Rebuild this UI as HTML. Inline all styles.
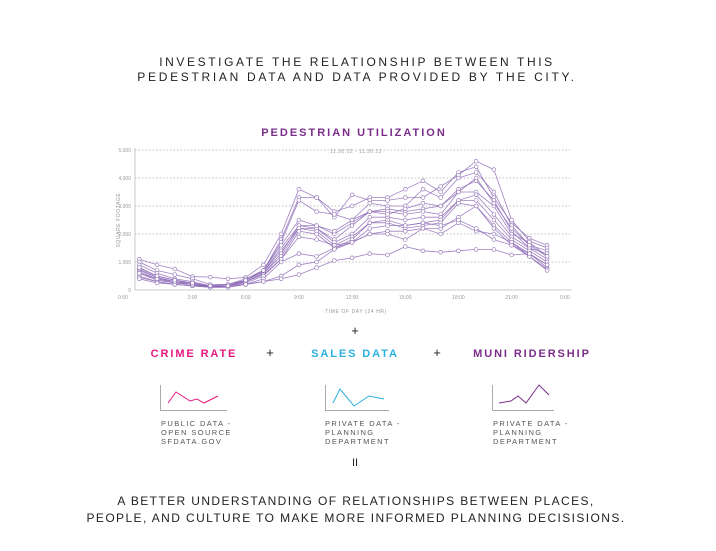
<!DOCTYPE html>
<html><head><meta charset="utf-8">
<style>
body{margin:0;background:#fff;width:716px;height:551px;overflow:hidden;font-family:"Liberation Sans",sans-serif;}
svg{position:absolute;left:0;top:0}
</style></head>
<body>
<svg width="716" height="551">
<g font-family="Liberation Sans, sans-serif" text-anchor="middle">
<text x="357" y="66" font-size="12" letter-spacing="2.6" fill="#222">INVESTIGATE THE RELATIONSHIP BETWEEN THIS</text>
<text x="357" y="81" font-size="12" letter-spacing="2.7" fill="#222">PEDESTRIAN DATA AND DATA PROVIDED BY THE CITY.</text>
<text x="354" y="136" font-size="11" font-weight="bold" letter-spacing="2" fill="#7a2e8a">PEDESTRIAN UTILIZATION</text>
<text x="356" y="153" font-size="5" fill="#999" letter-spacing="0.5">11.30.12 - 11.30.12</text>
<text x="356" y="313" font-size="5" fill="#999" letter-spacing="0.6">TIME OF DAY (24 HR)</text>
<text x="120" y="220" font-size="5" fill="#999" letter-spacing="0.6" transform="rotate(-90 120 220)">SQUARE FOOTAGE</text>
</g>
<g id="chart"></g>
<g font-family="Liberation Sans, sans-serif" text-anchor="middle">
<text x="355" y="335" font-size="13" fill="#222">+</text>
<text x="194" y="357" font-size="11" font-weight="bold" letter-spacing="1.9" fill="#e6177f">CRIME RATE</text>
<text x="270" y="357" font-size="13" fill="#222">+</text>
<text x="355" y="357" font-size="11" font-weight="bold" letter-spacing="1.9" fill="#2bb0e0">SALES DATA</text>
<text x="437" y="357" font-size="13" fill="#222">+</text>
<text x="532" y="357" font-size="11" font-weight="bold" letter-spacing="1.9" fill="#7a2e8a">MUNI RIDERSHIP</text>
</g>
<g fill="none" stroke-width="1">
<path d="M160.5 385V410.5H227" stroke="#aaa"/>
<polyline points="168,403 176,392 190,401 197,399 204,403 218,396" stroke="#e6177f"/>
<path d="M325.5 385V410.5H389" stroke="#aaa"/>
<polyline points="333,403 340,389 354,406 369,396 384,399" stroke="#2bb0e0"/>
<path d="M492.5 385V410.5H554" stroke="#aaa"/>
<polyline points="499,403 511,401 518,396 526,403 539,385 549,395" stroke="#7a2e8a"/>
</g>
<g font-family="Liberation Sans, sans-serif" font-size="7.5" fill="#555" letter-spacing="1.4">
<text x="161" y="426"><tspan x="161">PUBLIC DATA -</tspan><tspan x="161" dy="9">OPEN SOURCE</tspan><tspan x="161" dy="9">SFDATA.GOV</tspan></text>
<text x="325" y="426"><tspan x="325">PRIVATE DATA -</tspan><tspan x="325" dy="9">PLANNING</tspan><tspan x="325" dy="9">DEPARTMENT</tspan></text>
<text x="493" y="426"><tspan x="493">PRIVATE DATA -</tspan><tspan x="493" dy="9">PLANNING</tspan><tspan x="493" dy="9">DEPARTMENT</tspan></text>
</g>
<g font-family="Liberation Sans, sans-serif" text-anchor="middle" fill="#222">
<text x="355" y="466" font-size="11">II</text>
<text x="356" y="505" font-size="12" letter-spacing="1.4">A BETTER UNDERSTANDING OF RELATIONSHIPS BETWEEN PLACES,</text>
<text x="356" y="522" font-size="12" letter-spacing="1.4">PEOPLE, AND CULTURE TO MAKE MORE INFORMED PLANNING DECISISIONS.</text>
</g>
</svg>
<script>
const hours=[0,1,2,3,4,5,6,7,8,9,10,11,12,13,14,15,16,17,18,19,20,21,22,23];
const yTicks=[0,1000,2000,3000,4000,5000];
const yTickLabels=["0","1,000","2,000","3,000","4,000","5,000"];
const xTicks=[0,3,6,9,12,15,18,21,24];
const xTickLabels=["0:00","3:00","6:00","9:00","12:00","15:00","18:00","21:00","0:00"];
const seriesA=[1100,900,750,480,460,400,450,900,2000,3600,3300,2800,3000,3300,3300,3600,3900,3500,4200,4400,3300,2400,1850,1600];
const seriesB=[1000,700,550,400,200,200,400,700,1800,3300,3300,2600,3400,3200,3200,3300,3300,3700,4100,4600,4300,2500,1750,1500];
const seriesC=[900,600,400,300,150,200,350,700,1700,3200,2800,2700,2500,3100,3000,3000,3600,3300,4000,4200,3500,2300,1600,1400];
const seriesD=[800,500,350,250,120,150,350,650,1500,2300,2300,2000,2400,2800,2900,2800,2900,3000,3600,3900,3200,2100,1500,1300];
const seriesE=[750,450,300,250,100,150,350,650,1400,2200,2200,1800,2300,2800,2800,2700,2800,2700,3500,3500,3000,2000,1700,1200];
const seriesF=[700,450,300,200,100,150,300,600,1300,2300,2200,1700,2000,2600,2600,2500,2600,2600,3200,3400,2700,1900,1500,1100];
const seriesG=[650,400,250,200,100,150,300,600,1200,2200,2100,1600,1900,2400,2500,2300,2400,2500,3200,3200,2500,1800,1400,1000];
const seriesH=[600,350,250,200,100,150,300,550,1100,2100,2000,1500,1800,2400,2400,2200,2300,2400,3100,3000,2300,1700,1300,900];
const seriesI=[500,300,200,150,100,150,250,500,1100,1900,1800,1600,1700,2000,2100,2100,2200,2200,2600,3000,2200,1600,1300,800];
const seriesJ=[450,300,200,150,100,100,200,400,1000,1300,1200,1500,1700,2000,2000,1800,2200,2000,2400,2100,2000,1700,1200,750];
const seriesK=[400,250,200,150,100,100,200,300,500,900,1000,1450,1700,2200,2300,2300,2400,2300,2500,2200,1800,1600,1200,700];
const seriesL=[600,400,300,200,150,150,200,300,400,550,800,1050,1150,1300,1250,1550,1400,1350,1400,1450,1450,1250,1300,900];
const seriesM=[800,500,350,250,150,150,350,700,1600,2500,2300,2100,2500,2800,2700,2900,3100,3000,3500,4000,3100,2200,1600,1200];
const allSeries=[seriesA,seriesB,seriesC,seriesD,seriesE,seriesF,seriesG,seriesH,seriesI,seriesJ,seriesK,seriesL,seriesM];

const NS="http://www.w3.org/2000/svg";
const g=document.getElementById('chart');
function x(h){return 139.3+h*17.73;}
function y(v){return 290-v*0.028;}
function mk(tag,attrs){const e=document.createElementNS(NS,tag);for(const k in attrs)e.setAttribute(k,attrs[k]);g.appendChild(e);return e;}
yTicks.forEach((t,i)=>{
  if(t>0){const l=mk('line',{x1:135,x2:570,y1:y(t),y2:y(t),stroke:'#aaa','stroke-width':0.8,'stroke-dasharray':'1.5,2'});
  
  }
  const tx=mk('text',{x:131,y:y(t)+2,'font-size':5,fill:'#999','text-anchor':'end','font-family':'Liberation Sans, sans-serif'});
  tx.textContent=yTickLabels[i];
  
  
});
const ax=mk('path',{d:'M135 148V290H572',stroke:'#bbb','stroke-width':0.8,fill:'none'});


xTicks.forEach((t,i)=>{
  const tx=mk('text',{x:i===0?123:x(t),y:299,'font-size':5,fill:'#999','text-anchor':'middle','font-family':'Liberation Sans, sans-serif'});
  tx.textContent=xTickLabels[i];
  
  
});
allSeries.forEach((s,si)=>{
  const pl=mk('polyline',{points:s.map((v,i)=>x(hours[i])+','+y(v)).join(' '),fill:'none',stroke:'#8f6db8','stroke-width':0.8,'stroke-opacity':0.85});
  
  
  s.forEach((v,i)=>{
    const c=mk('circle',{cx:x(hours[i]),cy:y(v),r:1.9,fill:'#fff',stroke:'#8a6cb0','stroke-width':0.6});
    
    
  });
});
</script>
</body></html>
